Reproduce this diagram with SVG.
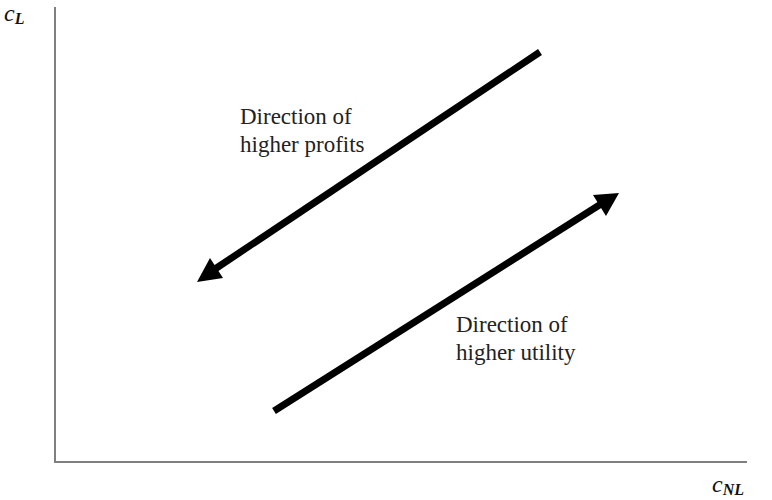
<svg xmlns="http://www.w3.org/2000/svg" width="772" height="500" viewBox="0 0 772 500">
<style>
.axis{stroke:#7f7f7f;stroke-width:2;fill:none}
.arr{stroke:#000;stroke-width:7;fill:none}
.head{fill:#000}
.lbl{font-family:"Liberation Serif","Times New Roman",serif;font-size:23px;fill:#222}
.math{font-family:"Liberation Serif","DejaVu Serif",serif;font-style:italic;font-size:24px;fill:#111}
.sub{font-size:16px;font-weight:bold}
</style>
<g id="axes">
<line class="axis" x1="55" y1="7" x2="55" y2="463"/>
<line class="axis" x1="54" y1="462" x2="747" y2="462"/>
</g>
<g id="connectors">
<line class="arr" x1="540" y1="52" x2="215" y2="269"/>
<polygon class="head" points="197,282 210,258 223,278"/>
<line class="arr" x1="274" y1="411" x2="601" y2="204"/>
<polygon class="head" points="619,193 593,195 606,216"/>
</g>
<g id="label-profits">
<text class="lbl" x="240" y="124">Direction of</text>
<text class="lbl" x="240" y="152">higher profits</text>
</g>
<g id="label-utility">
<text class="lbl" x="456" y="332">Direction of</text>
<text class="lbl" x="456" y="360">higher utility</text>
</g>
<g id="axis-y-label">
<text class="math" x="4" y="21">c<tspan class="sub" dy="3">L</tspan></text>
</g>
<g id="axis-x-label">
<text class="math" x="712" y="492">c<tspan class="sub" dy="3">NL</tspan></text>
</g>
</svg>
